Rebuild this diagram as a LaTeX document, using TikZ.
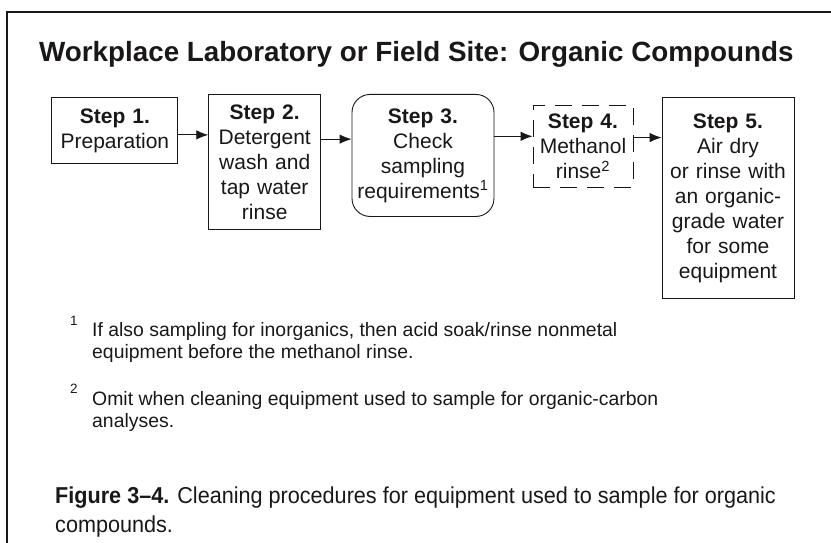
\documentclass[tikz,border=0pt]{standalone}
\usepackage{fontspec}
\setmainfont{Liberation Sans}
\newfontfamily\capfont[FakeStretch=0.94]{Liberation Sans}
\usepackage{tikz}
\usetikzlibrary{shapes,arrows.meta,positioning}
\definecolor{ink}{HTML}{1A1718}
\tikzstyle{line} = [draw, ink, line width=0.9pt, -{Latex[length=12pt,width=9.5pt]}]
\tikzstyle{step_box} = [rectangle, draw=ink, line width=0.9pt, text=ink, text centered, anchor=north, inner xsep=2pt, inner ysep=0pt, font=\fontsize{21}{25}\selectfont]
\tikzstyle{check_box} = [step_box, rounded corners=18pt]
\tikzstyle{omit_box} = [step_box, dash pattern=on 17pt off 10pt]
\tikzstyle{note} = [anchor=base west, align=left, text=ink, inner sep=0pt, font=\fontsize{19.4}{21.5}\selectfont]
\tikzstyle{note_mark} = [anchor=base west, text=ink, inner sep=0pt, font=\fontsize{13.5}{14}\selectfont]

\begin{document}
\begin{tikzpicture}[x=1pt, y=-1pt]
		\useasboundingbox (0,0) rectangle (831,543);
		\draw [ink, line width=2pt] (7,543) -- (7,12) -- (831,12);
		
		\node [anchor=base west, inner sep=0pt, text=ink, font=\bfseries\fontsize{27.8}{30}\selectfont] (title) at (39,62) {Workplace Laboratory or Field Site: Organic Compounds};
		
		\node [step_box, text width=122pt, minimum height=66pt] (step_1) at (114.9,97) {\textbf{Step 1.}\\Preparation};
		\node [step_box, text width=108pt, minimum height=135pt] (step_2) at (264.7,94) {\textbf{Step 2.}\\Detergent\\wash and\\tap water\\rinse};
		\node [check_box, text width=138pt, minimum height=122pt] (step_3) at (423,94) {\textbf{Step 3.}\\Check\\sampling\\requirements\textsuperscript{1}};
		\node [omit_box, text width=96pt, minimum height=82pt] (step_4) at (583,105) {\textbf{Step 4.}\\Methanol\\rinse\textsuperscript{2}};
		\node [step_box, text width=128pt, minimum height=201pt] (step_5) at (728,97) {\textbf{Step 5.}\\Air dry\\or rinse with\\an organic-\\grade water\\for some\\equipment};
		
		\path [line] (step_1.-4.5) to (step_1.-4.5 -| step_2.west);
		\path [line] (step_2.22.8) to (step_2.22.8 -| step_3.west);
		\path [line] (step_3.15.7) to (step_3.15.7 -| step_4.west);
		\path [line] (step_4.10.2) to (step_4.10.2 -| step_5.west);
		
		% footnotes
		\node [note_mark] (mark_1) at (70,325) {1};
		\node [note] (note_1) at (92,358) {If also sampling for inorganics, then acid soak/rinse nonmetal\\equipment before the methanol rinse.};
		\node [note_mark] (mark_2) at (70,393) {2};
		\node [note] (note_2) at (92,427) {Omit when cleaning equipment used to sample for organic-carbon\\analyses.};
		
		\node [anchor=base west, align=left, inner sep=0pt, text=ink, font=\capfont\fontsize{23}{29.5}\selectfont] (caption) at (55,532.5) {\textbf{Figure 3–4.} Cleaning procedures for equipment used to sample for organic\\compounds.};
\end{tikzpicture}
\end{document}
